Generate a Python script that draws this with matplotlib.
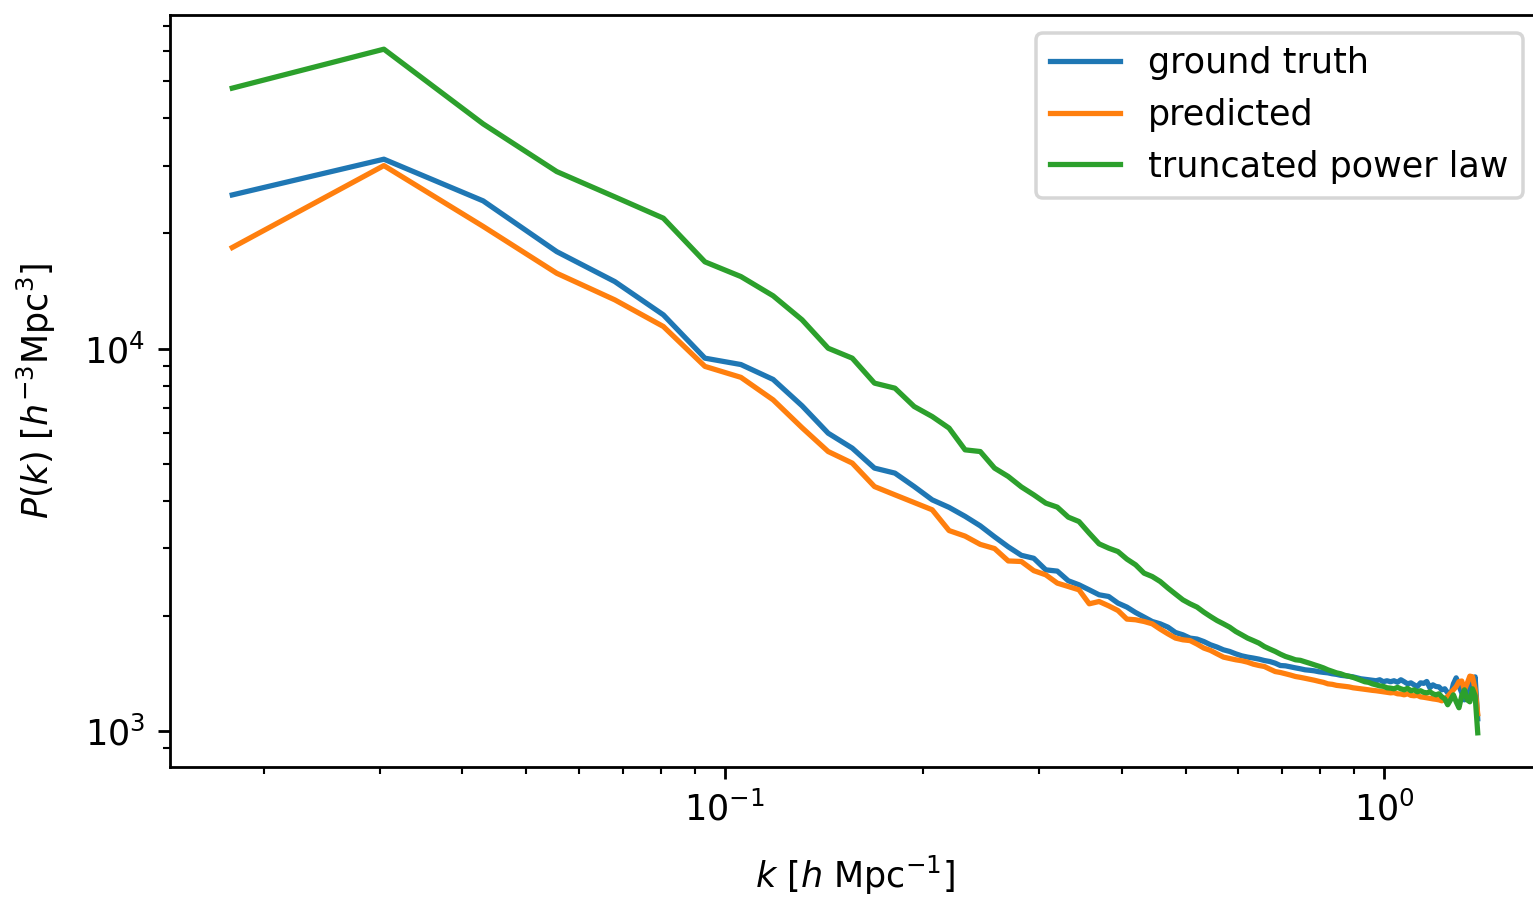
"""
Power spectrum comparison: ground truth vs predicted vs truncated power law.
Log-log plot of P(k) against k.
"""

import matplotlib
matplotlib.use("Agg")
import matplotlib.pyplot as plt

# ---------------------------------------------------------------------------
# Data
# ---------------------------------------------------------------------------
k = [
    0.0179, 0.0304, 0.0430, 0.0556, 0.0681, 0.0807, 0.0933, 0.1058, 0.1184, 0.1310,
    0.1435, 0.1561, 0.1687, 0.1812, 0.1938, 0.2064, 0.2189, 0.2315, 0.2441, 0.2566,
    0.2692, 0.2818, 0.2943, 0.3069, 0.3195, 0.3320, 0.3446, 0.3572, 0.3697, 0.3823,
    0.3949, 0.4074, 0.4200, 0.4326, 0.4451, 0.4577, 0.4703, 0.4828, 0.4954, 0.5080,
    0.5205, 0.5331, 0.5456, 0.5582, 0.5708, 0.5833, 0.5959, 0.6085, 0.6210, 0.6336,
    0.6462, 0.6587, 0.6713, 0.6839, 0.6964, 0.7090, 0.7216, 0.7341, 0.7467, 0.7593,
    0.7718, 0.7844, 0.7970, 0.8095, 0.8221, 0.8347, 0.8472, 0.8598, 0.8724, 0.8849,
    0.8975, 0.9101, 0.9226, 0.9352, 0.9478, 0.9603, 0.9729, 0.9855, 0.9980, 1.0106,
    1.0232, 1.0357, 1.0483, 1.0609, 1.0734, 1.0860, 1.0986, 1.1111, 1.1237, 1.1363,
    1.1488, 1.1614, 1.1740, 1.1865, 1.1991, 1.2117, 1.2242, 1.2368, 1.2494, 1.2619,
    1.2745, 1.2870, 1.2996, 1.3122, 1.3247, 1.3373, 1.3499, 1.3624, 1.3750, 1.3876,
]

pk_truth = [
    25230, 31290, 24340, 17930, 14970, 12250, 9438, 9082, 8303, 7083,
    6006, 5489, 4867, 4722, 4355, 4020, 3842, 3640, 3438, 3218,
    3029, 2878, 2827, 2637, 2617, 2469, 2410, 2338, 2269, 2246,
    2158, 2107, 2039, 1984, 1932, 1905, 1867, 1808, 1783, 1748,
    1738, 1712, 1679, 1656, 1629, 1613, 1590, 1571, 1559, 1550,
    1540, 1527, 1518, 1503, 1482, 1479, 1470, 1461, 1453, 1444,
    1440, 1435, 1427, 1422, 1418, 1410, 1405, 1397, 1393, 1389,
    1384, 1376, 1368, 1364, 1360, 1356, 1352, 1360, 1344, 1352,
    1344, 1352, 1340, 1360, 1344, 1327, 1335, 1319, 1306, 1335,
    1331, 1346, 1296, 1319, 1306, 1303, 1280, 1288, 1257, 1235,
    1327, 1376, 1311, 1257, 1205, 1265, 1368, 1280, 1384, 1075,
]

pk_pred = [
    18380, 30110, 20870, 15740, 13410, 11420, 8982, 8408, 7342, 6207,
    5378, 5016, 4355, 4143, 3955, 3786, 3341, 3231, 3074, 2998,
    2782, 2773, 2624, 2559, 2434, 2385, 2338, 2149, 2179, 2123,
    2064, 1960, 1952, 1932, 1905, 1845, 1793, 1748, 1730, 1722,
    1686, 1646, 1623, 1590, 1559, 1546, 1534, 1525, 1512, 1494,
    1482, 1473, 1450, 1429, 1421, 1410, 1399, 1387, 1380, 1372,
    1364, 1356, 1347, 1339, 1327, 1323, 1315, 1311, 1307, 1303,
    1296, 1292, 1288, 1284, 1280, 1276, 1273, 1269, 1265, 1261,
    1257, 1259, 1250, 1248, 1242, 1250, 1238, 1235, 1238, 1227,
    1224, 1220, 1216, 1212, 1209, 1205, 1198, 1212, 1230, 1255,
    1280, 1305, 1345, 1350, 1280, 1330, 1390, 1385, 1285, 1108,
]

pk_trunc = [
    48000, 60700, 38700, 29040, 24940, 21930, 16860, 15430, 13740, 11890,
    10020, 9438, 8120, 7877, 7053, 6640, 6193, 5433, 5378, 4867,
    4627, 4346, 4143, 3941, 3847, 3622, 3528, 3289, 3084, 3005,
    2944, 2813, 2718, 2585, 2533, 2458, 2362, 2279, 2201, 2149,
    2107, 2044, 1991, 1943, 1905, 1867, 1819, 1783, 1748, 1722,
    1696, 1661, 1636, 1613, 1587, 1565, 1550, 1534, 1529, 1515,
    1502, 1488, 1475, 1461, 1444, 1431, 1418, 1410, 1397, 1389,
    1380, 1368, 1356, 1344, 1339, 1327, 1319, 1311, 1307, 1296,
    1293, 1288, 1299, 1288, 1280, 1292, 1273, 1280, 1265, 1273,
    1261, 1257, 1265, 1250, 1242, 1250, 1227, 1212, 1170, 1205,
    1242, 1191, 1149, 1235, 1280, 1205, 1191, 1288, 1235, 988,
]

# ---------------------------------------------------------------------------
# Plot
# ---------------------------------------------------------------------------
DPI = 252
fig = plt.figure(figsize=(1533 / DPI, 897 / DPI), dpi=DPI)
# axes run slightly past the right edge, as in the reference crop
ax = fig.add_axes([170 / 1533, 1 - 767 / 897, 1370 / 1533, 752 / 897])

ax.plot(k, pk_truth, label="ground truth")
ax.plot(k, pk_pred, label="predicted")
ax.plot(k, pk_trunc, label="truncated power law")

ax.set_xscale("log")
ax.set_yscale("log")
ax.set_xlabel(r"$k$ [$h$ Mpc$^{-1}$]", labelpad=7.5)
ax.set_ylabel(r"$P(k)$ [$h^{-3}$Mpc$^3$]", labelpad=7.5)
ax.legend(loc="upper right")

fig.savefig("out.png", dpi=DPI)
plt.close(fig)
